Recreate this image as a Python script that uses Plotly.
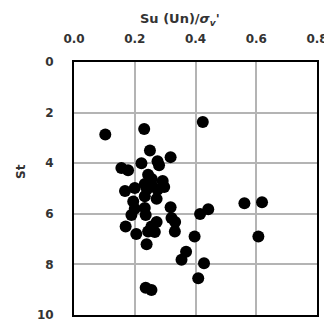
import plotly.graph_objects as go

su_ratio = [0.103, 0.231, 0.424, 0.250, 0.318, 0.222, 0.275, 0.280, 0.156, 0.178,
            0.244, 0.256, 0.292, 0.297, 0.233, 0.258, 0.200, 0.168, 0.240, 0.275,
            0.233, 0.272, 0.195, 0.200, 0.233, 0.318, 0.189, 0.236, 0.321, 0.333,
            0.272, 0.255, 0.170, 0.205, 0.244, 0.266, 0.332, 0.239, 0.442, 0.415,
            0.561, 0.619, 0.397, 0.607, 0.369, 0.354, 0.428, 0.409, 0.236, 0.255]
st = [2.87, 2.65, 2.37, 3.50, 3.76, 4.00, 3.92, 4.08, 4.19, 4.28,
      4.46, 4.62, 4.70, 4.94, 4.82, 4.90, 4.98, 5.10, 5.03, 5.05,
      5.31, 5.41, 5.51, 5.80, 5.77, 5.74, 6.05, 6.05, 6.17, 6.32,
      6.32, 6.50, 6.50, 6.80, 6.70, 6.72, 6.70, 7.20, 5.82, 6.01,
      5.58, 5.54, 6.90, 6.90, 7.50, 7.82, 7.95, 8.55, 8.92, 9.01]

x_ticks = [0.0, 0.2, 0.4, 0.6, 0.8]
y_ticks = [0, 2, 4, 6, 8, 10]

fig = go.Figure()
fig.add_trace(go.Scatter(x=su_ratio, y=st, mode="markers",
                         marker=dict(color="black", size=12, line=dict(width=0)),
                         showlegend=False))

# page body has an 8px margin, so the figure is drawn at (8, 8)
tick_font = dict(family="DejaVu Sans", size=12, color="#333333", weight="bold")
fig.update_layout(
    width=324, height=316,
    margin=dict(l=66, r=15, t=54, b=9, autoexpand=False),
    paper_bgcolor="white", plot_bgcolor="white",
    xaxis=dict(side="top", range=[0, 0.8], tickvals=x_ticks,
               ticktext=[f"{v:.1f}" for v in x_ticks], automargin=False,
               showgrid=True, gridcolor="#b4b4b4", gridwidth=1.5,
               showline=True, linecolor="black", linewidth=2, mirror=True,
               zeroline=False, ticks="", tickfont=tick_font, ticklabelstandoff=12),
    yaxis=dict(range=[10, 0], tickvals=y_ticks, automargin=False,
               showgrid=True, gridcolor="#b4b4b4", gridwidth=1.5,
               showline=True, linecolor="black", linewidth=2, mirror=True,
               zeroline=False, ticks="", tickfont=tick_font, ticklabelstandoff=16),
    annotations=[
        dict(text="Su (Un)/<i>σ<sub>v</sub></i>'", xref="paper", yref="paper",
             x=(180 - 74) / 243, y=1 + (62 - 19) / 253, xanchor="center", yanchor="middle",
             showarrow=False, font=dict(family="DejaVu Sans", size=13, color="#333333", weight="bold")),
        dict(text="St", xref="paper", yref="paper", textangle=-90,
             x=(21 - 74) / 243, y=1 - (172 - 62) / 253, xanchor="center", yanchor="middle",
             showarrow=False, font=dict(family="DejaVu Sans", size=12, color="#333333", weight="bold")),
    ],
)
fig.write_html("out.html")
